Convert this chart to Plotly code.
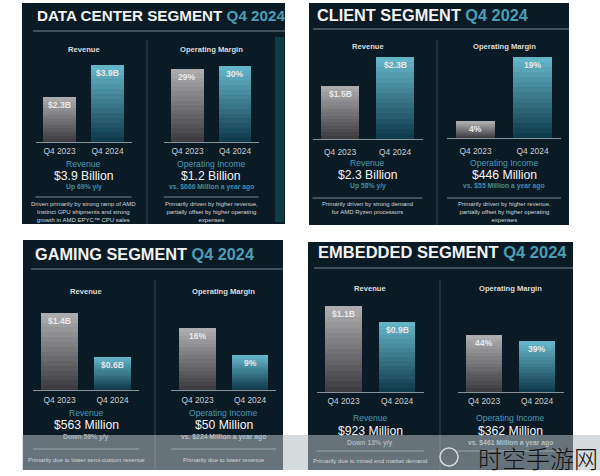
import plotly.graph_objects as go

W, H = 600, 476

# ---------------- data ----------------
segments = ["DATA CENTER SEGMENT", "CLIENT SEGMENT", "GAMING SEGMENT", "EMBEDDED SEGMENT"]
period_label = "Q4 2024"
quarters = ["Q4 2023", "Q4 2024"]
revenue_b = [[2.3, 3.9], [1.5, 2.3], [1.4, 0.6], [1.1, 0.9]]
revenue_labels = [["$2.3B", "$3.9B"], ["$1.5B", "$2.3B"], ["$1.4B", "$0.6B"], ["$1.1B", "$0.9B"]]
margin_pct = [[29, 30], [4, 19], [16, 9], [44, 39]]
margin_labels = [["29%", "30%"], ["4%", "19%"], ["16%", "9%"], ["44%", "39%"]]
revenue_total = ["$3.9 Billion", "$2.3 Billion", "$563 Million", "$923 Million"]
revenue_change = ["Up 69% y/y", "Up 58% y/y", "Down 59% y/y", "Down 13% y/y"]
op_income = ["$1.2 Billion", "$446 Million", "$50 Million", "$362 Million"]
op_income_prior = ["vs. $666 Million a year ago", "vs. $55 Million a year ago",
                   "vs. $224 Million a year ago", "vs. $461 Million a year ago"]
revenue_notes = ["Driven primarily by strong ramp of AMD<br>Instinct GPU shipments and strong<br>growth in AMD EPYC\u2122 CPU sales",
                 "Primarily driven by strong demand<br>for AMD Ryzen processors",
                 "Primarily due to lower semi-custom revenue",
                 "Primarily due to mixed end market demand"]
margin_notes = ["Primarily driven by higher revenue,<br>partially offset by higher operating<br>expenses",
                "Primarily driven by higher revenue,<br>partially offset by higher operating<br>expenses",
                "Primarily due to lower revenue",
                ""]
header_rev = "Revenue"
header_margin = "Operating Margin"
sub_rev = "Revenue"
sub_margin = "Operating Income"
watermark = "时空手游网"

# ---------------- layout geometry (pixels) ----------------
panel_box = [(22, 3, 285, 224), (309, 3, 569, 225), (23, 240, 283, 470), (308, 242, 573, 470)]
title_pos = [(35, 15, 15.2), (315, 15, 16.3), (33, 254, 16.3), (316, 252, 16.5)]
title_rule_y = [31, 29, 269, 268]
divider = [(147, 40, 224), (437, 40, 225), (155, 280, 470), (440, 280, 470)]
rev_x = [(35.5, 131.5), (312.5, 422.5), (33, 139), (316.75, 423.75)]
mar_x = [(163.75, 258.75), (447, 561), (171.25, 276.25), (457.5, 563.5)]
rev_y = [(142, 65), (139, 57), (390, 313), (392, 306)]
mar_y = [(142, 66), (138, 57), (390, 328), (392, 335)]
# header, sublabel, value, change, rule, note-top
rows = [(50, 164, 176, 187, 197, 199), (47, 163, 175, 186, 198, 199),
        (291, 413, 425, 437, 449, 455), (288, 418, 431, 443, 451, 456)]
tick_standoff = [1, 5, 2, 1]

FONT = "Liberation Sans, Arial, sans-serif"
PANEL_BG = "#0b1b26"
TEAL = "#4e9cb4"
TEAL_SUB = "#4a9ab2"
TEAL_CHG = "#3f8ea6"
change_colors = [TEAL_CHG, TEAL_CHG, "#a9b6bc", "#a9b6bc"]
prior_colors = [TEAL_CHG, TEAL_CHG, "#b3bfc4", "#b3bfc4"]

GRAY_BOT, GRAY_TOP = (62, 62, 66), (172, 172, 175)
TEAL_BOT, TEAL_TOP = (16, 60, 76), (100, 180, 200)
NSEG = 16


def lerp(a, b, t):
    return "rgb(%d,%d,%d)" % tuple(round(a[i] + (b[i] - a[i]) * t) for i in range(3))


def px(x):
    return x / W


def py(y):
    return 1 - y / H


def text_at(x, y, text, size, color, xanchor="center", yanchor="middle", **kw):
    f = dict(family=kw.pop("family", FONT), size=size, color=color)
    if "weight" in kw:
        f["weight"] = kw.pop("weight")
    return dict(xref="paper", yref="paper", x=px(x), y=py(y), xanchor=xanchor, yanchor=yanchor,
                showarrow=False, text=text, font=f, **kw)


fig = go.Figure()
shapes = []
ann = []
layout_axes = {}

ax_i = 0
for p in range(4):
    x0, y0, x1, y1 = panel_box[p]
    shapes.append(dict(type="rect", xref="paper", yref="paper", x0=px(x0), x1=px(x1),
                       y0=py(y1), y1=py(y0), fillcolor=PANEL_BG, line=dict(width=0), layer="below"))
    tx, ty, ts = title_pos[p]
    ann.append(text_at(tx, ty, "<b>%s <span style='color:%s'>%s</span></b>" % (segments[p], TEAL, period_label),
                       ts, "#f2f2f2", xanchor="left"))
    shapes.append(dict(type="line", xref="paper", yref="paper", x0=px(tx - 2), x1=px(x1),
                       y0=py(title_rule_y[p]), y1=py(title_rule_y[p]),
                       line=dict(color="#56626c", width=1.5)))
    dx, dy0, dy1 = divider[p]
    shapes.append(dict(type="line", xref="paper", yref="paper", x0=px(dx), x1=px(dx),
                       y0=py(dy1), y1=py(dy0), line=dict(color="#3a4752", width=1)))

    hdr, sub_y, val_y, chg_y, rule_y, note_y = rows[p]
    charts = [
        (revenue_b[p], revenue_labels[p], rev_x[p], rev_y[p], header_rev, sub_rev,
         revenue_total[p], revenue_change[p], revenue_notes[p], change_colors[p]),
        (margin_pct[p], margin_labels[p], mar_x[p], mar_y[p], header_margin, sub_margin,
         op_income[p], op_income_prior[p], margin_notes[p], prior_colors[p]),
    ]
    for vals, labels, (cx0, cx1), (yb, yt), hname, sname, bigval, chg, note, ccol in charts:
        ax_i += 1
        xa = "x" if ax_i == 1 else "x%d" % ax_i
        ya = "y" if ax_i == 1 else "y%d" % ax_i
        xkey = "xaxis" if ax_i == 1 else "xaxis%d" % ax_i
        ykey = "yaxis" if ax_i == 1 else "yaxis%d" % ax_i
        vmax = max(vals)
        layout_axes[xkey] = dict(domain=[px(cx0), px(cx1)], anchor=ya, type="category",
                                 categoryorder="array", categoryarray=quarters,
                                 range=[-0.5, 1.5], showline=True, linecolor="#8a949c", linewidth=1,
                                 showgrid=False, zeroline=False, ticks="", fixedrange=True,
                                 ticklabelstandoff=tick_standoff[p],
                                 tickfont=dict(family=FONT, size=8.4, color="#c9cdd1"))
        layout_axes[ykey] = dict(domain=[py(yb), py(yt)], anchor=xa, range=[0, vmax],
                                 visible=False, fixedrange=True)
        for k in range(NSEG):
            t = k / (NSEG - 1)
            fig.add_trace(go.Bar(
                x=quarters, y=[v / NSEG for v in vals], xaxis=xa, yaxis=ya,
                marker=dict(color=[lerp(GRAY_BOT, GRAY_TOP, t), lerp(TEAL_BOT, TEAL_TOP, t)],
                            line=dict(width=0)),
                showlegend=False, hoverinfo="skip"))
        for q, v, lab in zip(quarters, vals, labels):
            ann.append(dict(xref=xa, yref=ya, x=q, y=v, xanchor="center", yanchor="top", yshift=-1,
                            showarrow=False, text="<b>%s</b>" % lab,
                            font=dict(family=FONT, size=8.6, color="#e8e8e8")))
        cxm = (cx0 + cx1) / 2
        ann.append(text_at(cxm, hdr, "<b>%s</b>" % hname, 7.6, "#dcdcdc"))
        ann.append(text_at(cxm, sub_y, sname, 8.6, TEAL_SUB))
        ann.append(text_at(cxm, val_y, bigval, 12.2, "#f4f4f4"))
        ann.append(text_at(cxm, chg_y, "<b>%s</b>" % chg, 6.8, ccol))
        shapes.append(dict(type="line", xref="paper", yref="paper", x0=px(cx0), x1=px(cx1),
                           y0=py(rule_y), y1=py(rule_y), line=dict(color="#7d878e", width=1)))
        if note:
            ann.append(text_at(cxm, note_y, note, 6, "#d2d6da", yanchor="top"))

# teal strip at the right edge of the first slide
shapes.append(dict(type="rect", xref="paper", yref="paper", x0=px(275), x1=px(284),
                   y0=py(222), y1=py(37), fillcolor="#0f3a46", line=dict(width=0), layer="below"))
# translucent band across the bottom of the lower slides
shapes.append(dict(type="rect", xref="paper", yref="paper", x0=px(22), x1=px(600),
                   y0=py(470), y1=py(435), fillcolor="rgba(178,188,193,0.55)",
                   line=dict(width=0), layer="above"))
# watermark logo + text
shapes.append(dict(type="circle", xref="paper", yref="paper", x0=px(440), x1=px(458),
                   y0=py(466), y1=py(448), line=dict(color="rgba(240,240,240,0.8)", width=1.5)))
ann.append(text_at(476, 457, watermark, 24, "#111111", xanchor="left",
                   family="Noto Sans CJK SC", weight=300))

fig.update_layout(width=W, height=H, margin=dict(l=0, r=0, t=0, b=0),
                  paper_bgcolor="white", plot_bgcolor="rgba(0,0,0,0)",
                  barmode="stack", bargap=0.31, showlegend=False,
                  shapes=shapes, annotations=ann, **layout_axes)

fig.write_html("out.html", config={"displayModeBar": False},
               post_script="document.body.style.margin='0';document.body.style.overflow='hidden';")
